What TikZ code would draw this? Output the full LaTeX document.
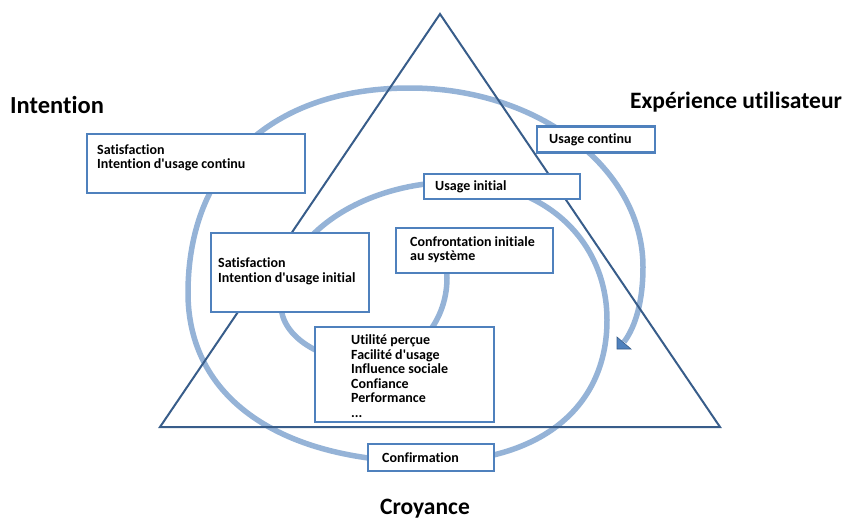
\documentclass[tikz,border=0pt]{standalone}
\usepackage{fontspec}
\setmainfont{Carlito}[Ligatures=NoCommon]
\definecolor{spiralblue}{RGB}{149,179,215}
\definecolor{boxblue}{RGB}{79,129,189}
\definecolor{tridark}{RGB}{56,93,138}
\newcommand{\apos}{\textquotesingle}
\begin{document}
\begin{tikzpicture}[x=1pt,y=-1pt,
  spiral/.style={draw=spiralblue,line width=5.5pt,line cap=butt},
  tri/.style={draw=tridark,line width=2pt,line join=miter},
  box/.style={draw=boxblue,line width=2.4pt,fill=white,rectangle,inner sep=0pt},
  txt/.style={font=\bfseries\fontsize{14}{14.5}\selectfont,align=left,inner sep=0pt,anchor=west,text=black},
  title/.style={font=\bfseries\fontsize{23.5}{26}\selectfont,inner sep=0pt,anchor=base west,text=black}]
\useasboundingbox (0,0) rectangle (844,520);
% spiral
\coordinate (S) at (446,262);
\coordinate (E0) at (447,278);
\coordinate (E1) at (370,362);
\coordinate (E2) at (281,305);
\coordinate (E3) at (457,182);
\coordinate (E4) at (607,320);
\coordinate (E5) at (430,462);
\coordinate (E6) at (188,293);
\coordinate (E7) at (410,88);
\coordinate (E8) at (643,267);
\coordinate (Eend) at (624,342);
\draw[spiral] (S) -- (E0)
  .. controls (447,324.2) and (412.4,362) .. (E1)
  .. controls (321.1,362) and (281,336.4) .. (E2)
  .. controls (281,237.4) and (360.2,182) .. (E3)
  .. controls (544,182) and (607,240) .. (E4)
  .. controls (607,408) and (539.7,462) .. (E5)
  .. controls (280,462) and (188,397.8) .. (E6)
  .. controls (188,165.9) and (272.4,88) .. (E7)
  .. controls (538.2,88) and (643,168.5) .. (E8)
  .. controls (643,300) and (636,326) .. (Eend);
\fill[boxblue,draw=tridark,line width=0.6pt] (617,337) -- (617,349) -- (631,349) -- cycle;
% triangle
\coordinate (apex) at (440,14);
\coordinate (bl) at (160,427);
\coordinate (br) at (720,427);
\draw[tri] (apex) -- (bl) -- (br) -- cycle;
% boxes
\node[box,minimum width=218pt,minimum height=59pt] (b1) at (196,163.5) {};
\node[box,minimum width=158pt,minimum height=79pt] (b2) at (290,272.5) {};
\node[box,minimum width=156pt,minimum height=25pt] (b3) at (502,186.5) {};
\node[box,minimum width=157pt,minimum height=45pt] (b4) at (474.5,250.5) {};
\node[box,minimum width=118pt,minimum height=26pt] (b5) at (596,139.5) {};
\node[box,minimum width=179pt,minimum height=95pt] (b6) at (404.5,374.5) {};
\node[box,minimum width=126pt,minimum height=27pt] (b7) at (431,457.5) {};
% texts
\node[txt] (t1) at (97,158) {Satisfaction\\Intention d\apos usage continu};
\node[txt] (t2) at (218,271.5) {Satisfaction\\Intention d\apos usage initial};
\node[txt] (t3) at (435,187) {Usage initial};
\node[txt] (t4) at (410,249.5) {Confrontation initiale\\au système};
\node[txt] (t5) at (549,140) {Usage continu};
\node[txt] (t6) at (351,376) {Utilité perçue\\Facilité d\apos usage\\Influence sociale\\Confiance\\Performance\\...};
\node[txt] (t7) at (382,458) {Confirmation};
% titles
\node[title,font=\bfseries\fontsize{24.5}{27}\selectfont] (intention) at (10,113) {Intention};
\node[title] (experience) at (630,108) {Expérience utilisateur};
\node[title,anchor=base] (croyance) at (425,514.5) {Croyance};
\end{tikzpicture}
\end{document}
